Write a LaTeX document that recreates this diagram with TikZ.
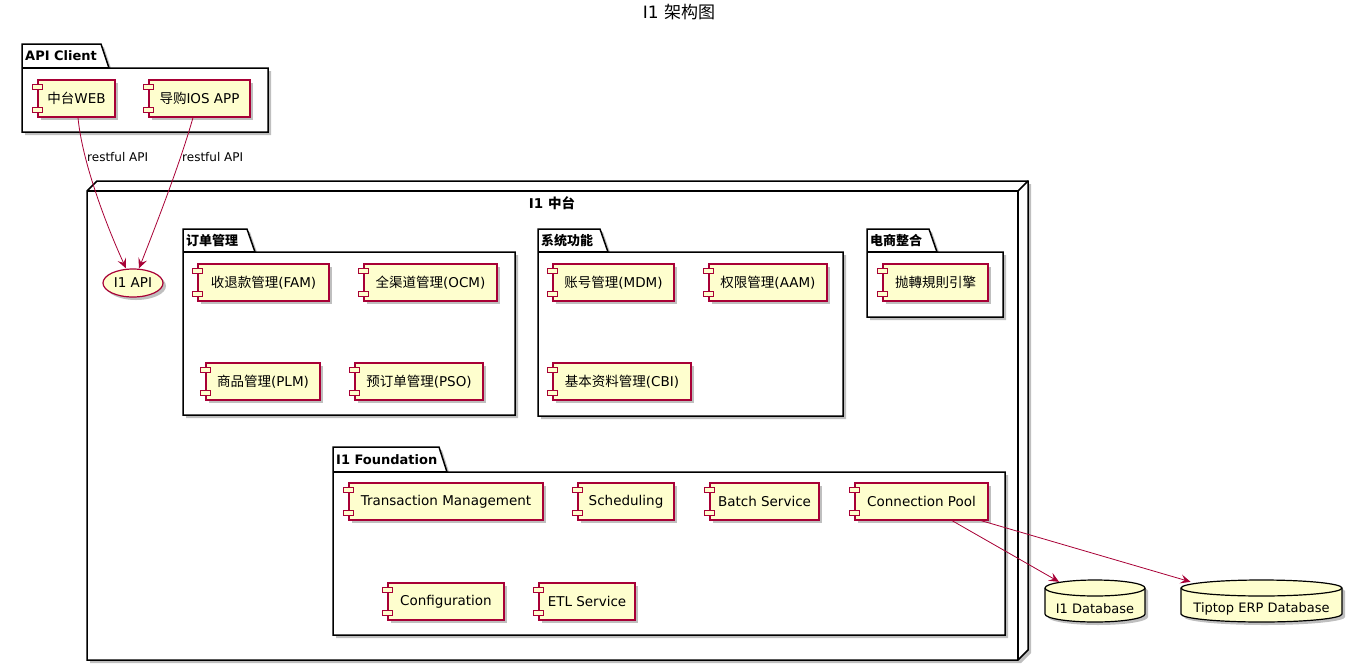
\documentclass[tikz,border=0pt]{standalone}
\usepackage{fontspec}
\setmainfont{DejaVu Sans}
\newfontfamily\cjk{Noto Sans CJK SC}
\usetikzlibrary{shapes.geometric,arrows.meta,shadows}
\definecolor{compfill}{HTML}{FEFECE}
\definecolor{compline}{HTML}{A80036}
\tikzset{
 shad/.style={drop shadow={shadow xshift=3pt,shadow yshift=-3pt,opacity=0.25,fill=black}},
 comp/.style={draw=compline, fill=compfill, line width=1.2pt, minimum height=37pt, inner sep=0pt, font=\fontsize{13.5}{16}\selectfont, shad},
 tick/.style={draw=compline, fill=compfill, line width=1.2pt},
 pkg/.style={draw=black, line width=1.5pt, fill=white},
 pkgline/.style={draw=black, line width=1.5pt},
 pkglabel/.style={font=\bfseries\fontsize{13}{15}\selectfont, anchor=west, inner sep=0pt},
 conn/.style={draw=compline, line width=0.8pt, -{Stealth[length=10pt,width=9pt,inset=4pt]}},
 elabel/.style={font=\fontsize{12}{14}\selectfont, anchor=west, inner sep=0pt},
 dbst/.style={draw=black, fill=compfill, line width=1.2pt},
 dbbox/.style={inner sep=0pt},
 dbtext/.style={font=\fontsize{13}{15}\selectfont, inner sep=0pt},
}
\newcommand\compticks[1]{%
 \draw[tick] ([xshift=-5pt,yshift=-5pt]#1.north west) rectangle ++(10pt,-5pt);
 \draw[tick] ([xshift=-5pt,yshift=5pt]#1.south west) rectangle ++(10pt,5pt);}
\newcommand\comp[5]{\node[comp, minimum width=#4pt] (#1) at (#2,#3) {#5}; \compticks{#1}}
\newcommand\pkgdraw[8]{%
 \draw[pkg, shad] (#2,#5) -- (#2,#3) -- (#4,#3) -- ({#4+8},#5) -- (#6,#5) -- (#6,#7) -- (#2,#7) -- cycle;
 \draw[pkgline] (#2,#5) -- ({#4+8},#5);
 \node[pkglabel] (#1) at ({#2+3},{(#3+#5)/2}) {#8};}
\begin{document}
\begin{tikzpicture}[x=1pt,y=-1pt]
\useasboundingbox (0,0) rectangle (1350,670);
% title
\node[font=\fontsize{17}{20}\selectfont, inner sep=0pt] (title) at (679,12) {I1 {\cjk 架构图}};
% API Client package
\pkgdraw{pA}{22}{44}{101}{68}{268}{132}{API Client}
\comp{web}{76.5}{98.5}{77}{{\cjk 中台}WEB}
\comp{ios}{199.5}{98.5}{101}{{\cjk 导购}IOS APP}
% I1 core node
\draw[pkg, shad] (87,191) -- (97,181) -- (1028,181) -- (1028,650) -- (1018,660) -- (87,660) -- cycle;
\draw[pkgline] (87,191) -- (1018,191) -- (1018,660);
\draw[pkgline] (1018,191) -- (1028,181);
\node[font=\bfseries\fontsize{13.5}{16}\selectfont, inner sep=0pt] (core) at (552,203) {I1 {\cjk 中台}};
% API interface
\node[ellipse, draw=compline, fill=compfill, line width=1.2pt, minimum width=60pt, minimum height=28pt, inner sep=0pt, shad, font=\fontsize{13.5}{16}\selectfont] (api) at (133,283) {I1 API};
% packages
\pkgdraw{pO}{183}{229}{247}{252}{515}{415}{{\cjk 订单管理}}
\pkgdraw{pS}{538}{229}{600}{252}{843}{416}{{\cjk 系统功能}}
\pkgdraw{pE}{867}{229}{929}{252}{1003}{317}{{\cjk 电商整合}}
\pkgdraw{pF}{333}{447}{439}{472}{1005}{635}{I1 Foundation}
% components
\comp{fam}{263.5}{282.5}{131}{{\cjk 收退款管理}(FAM)}
\comp{ocm}{430.5}{282.5}{133}{{\cjk 全渠道管理}(OCM)}
\comp{plm}{263}{381.5}{114}{{\cjk 商品管理}(PLM)}
\comp{pso}{419}{381.5}{128}{{\cjk 预订单管理}(PSO)}
\comp{mdm}{613.5}{282.5}{121}{{\cjk 账号管理}(MDM)}
\comp{aam}{768}{282.5}{118}{{\cjk 权限管理}(AAM)}
\comp{cbi}{622}{381.5}{138}{{\cjk 基本资料管理}(CBI)}
\comp{rule}{935.5}{282.5}{105}{{\cjk 抛轉規則引擎}}
\comp{tm}{446}{501.5}{194}{Transaction Management}
\comp{sch}{626}{501.5}{96}{Scheduling}
\comp{batch}{764.5}{501.5}{109}{Batch Service}
\comp{pool}{921.5}{501.5}{133}{Connection Pool}
\comp{conf}{446}{601.5}{116}{Configuration}
\comp{etl}{587}{601.5}{96}{ETL Service}
% databases
\draw[dbst, shad] (1045,588) -- (1045,614) arc[start angle=180, end angle=360, x radius=50pt, y radius=8pt] -- (1145,588) arc[start angle=0, end angle=180, x radius=50pt, y radius=8pt] -- cycle;
\draw[dbst, fill=none] (1045,588) arc[start angle=180, end angle=360, x radius=50pt, y radius=8pt];
\node[dbbox, minimum width=100pt, minimum height=42pt] (db1) at (1095,601) {};
\node[dbtext] (db1t) at (1095,609) {I1 Database};
\draw[dbst, shad] (1181,588) -- (1181,614) arc[start angle=180, end angle=360, x radius=80.5pt, y radius=8pt] -- (1342,588) arc[start angle=0, end angle=180, x radius=80.5pt, y radius=8pt] -- cycle;
\draw[dbst, fill=none] (1181,588) arc[start angle=180, end angle=360, x radius=80.5pt, y radius=8pt];
\node[dbbox, minimum width=161pt, minimum height=42pt] (db2) at (1261.5,601) {};
\node[dbtext] (db2t) at (1261.5,609) {Tiptop ERP Database};
% connectors
\draw[conn] ([xshift=1.5pt]web.south) .. controls (82,160) and (104,220) .. ([xshift=-7pt]api.north);
\draw[conn] ([xshift=-6.5pt]ios.south) .. controls (181,160) and (160,215) .. ([xshift=6pt]api.north);
\node[elabel] (l1) at (87,157) {restful API};
\node[elabel] (l2) at (182,157) {restful API};
\draw[conn] ([xshift=30.5pt]pool.south) -- ([xshift=-36pt,yshift=-2pt]db1.north);
\draw[conn] ([xshift=59.5pt]pool.south) -- ([xshift=-71pt,yshift=-2pt]db2.north);
\end{tikzpicture}
\end{document}
